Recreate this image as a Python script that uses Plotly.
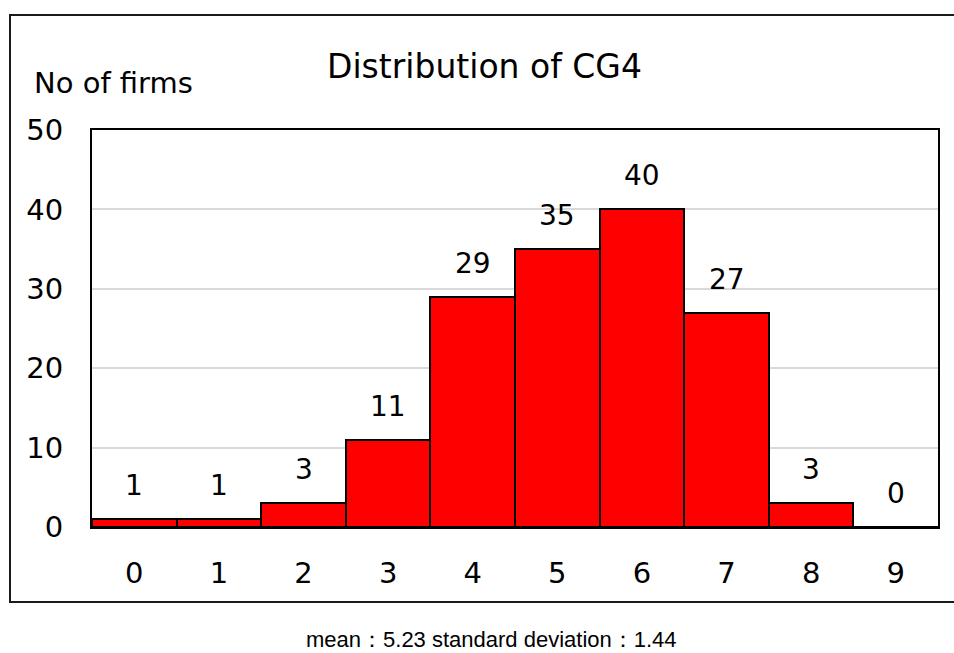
import plotly.graph_objects as go

categories = ["0", "1", "2", "3", "4", "5", "6", "7", "8", "9"]
firms = [1, 1, 3, 11, 29, 35, 40, 27, 3, 0]
title_text = "Distribution of CG4"
y_title = "No of firms"
caption = "mean：5.23 standard deviation：1.44"

W, H = 954, 653
L, R, T, B = 92, 16, 130, 126
pw, ph = W - L - R, H - T - B

def px(x):
    return (x - L) / pw

def py(y):
    return (H - B - y) / ph

FONT = "DejaVu Sans"

fig = go.Figure()
fig.add_trace(go.Bar(
    x=categories, y=firms,
    marker=dict(color="#FF0000", line=dict(color="black", width=2)),
    hoverinfo="skip",
))

annotations = []
for c, v in zip(categories, firms):
    annotations.append(dict(
        x=c, y=v, xref="x", yref="y", text=str(v), showarrow=False,
        yanchor="bottom", yshift=15,
        font=dict(family=FONT, size=28, color="black"),
    ))

annotations.append(dict(
    x=px(484), y=py(67), xref="paper", yref="paper", text=title_text,
    showarrow=False, xanchor="center", yanchor="middle",
    font=dict(family=FONT, size=33, color="black"),
))
annotations.append(dict(
    x=px(32), y=py(83), xref="paper", yref="paper", text=y_title,
    showarrow=False, xanchor="left", yanchor="middle",
    font=dict(family=FONT, size=29, color="black"),
))
annotations.append(dict(
    x=px(491), y=py(639), xref="paper", yref="paper", text=caption,
    showarrow=False, xanchor="center", yanchor="middle",
    font=dict(family="Liberation Sans", size=22, color="black"),
))

fig.update_layout(
    width=W, height=H,
    margin=dict(l=L, r=R, t=T, b=B),
    paper_bgcolor="white", plot_bgcolor="white",
    bargap=0, showlegend=False,
    annotations=annotations,
    shapes=[dict(
        type="rect", xref="paper", yref="paper",
        x0=px(10), x1=px(960), y0=py(602), y1=py(15),
        line=dict(color="#1a1a1a", width=2), layer="below",
    )],
    font=dict(family=FONT, size=28, color="black"),
)
fig.update_xaxes(
    type="category", showline=True, mirror=True, linecolor="black", linewidth=2,
    ticks="", ticklabelstandoff=19, showgrid=False,
    tickfont=dict(family=FONT, size=29, color="black"),
)
fig.update_yaxes(
    range=[0, 50], dtick=10, showline=True, mirror=True, linecolor="black", linewidth=2,
    ticks="", ticklabelstandoff=21, showgrid=True, gridcolor="#d9d9d9", gridwidth=1.5,
    zeroline=False,
    tickfont=dict(family=FONT, size=29, color="black"),
)

fig.write_html(
    "out.html",
    config={"displayModeBar": False},
    post_script="document.body.style.margin='0';document.body.style.padding='0';",
)
